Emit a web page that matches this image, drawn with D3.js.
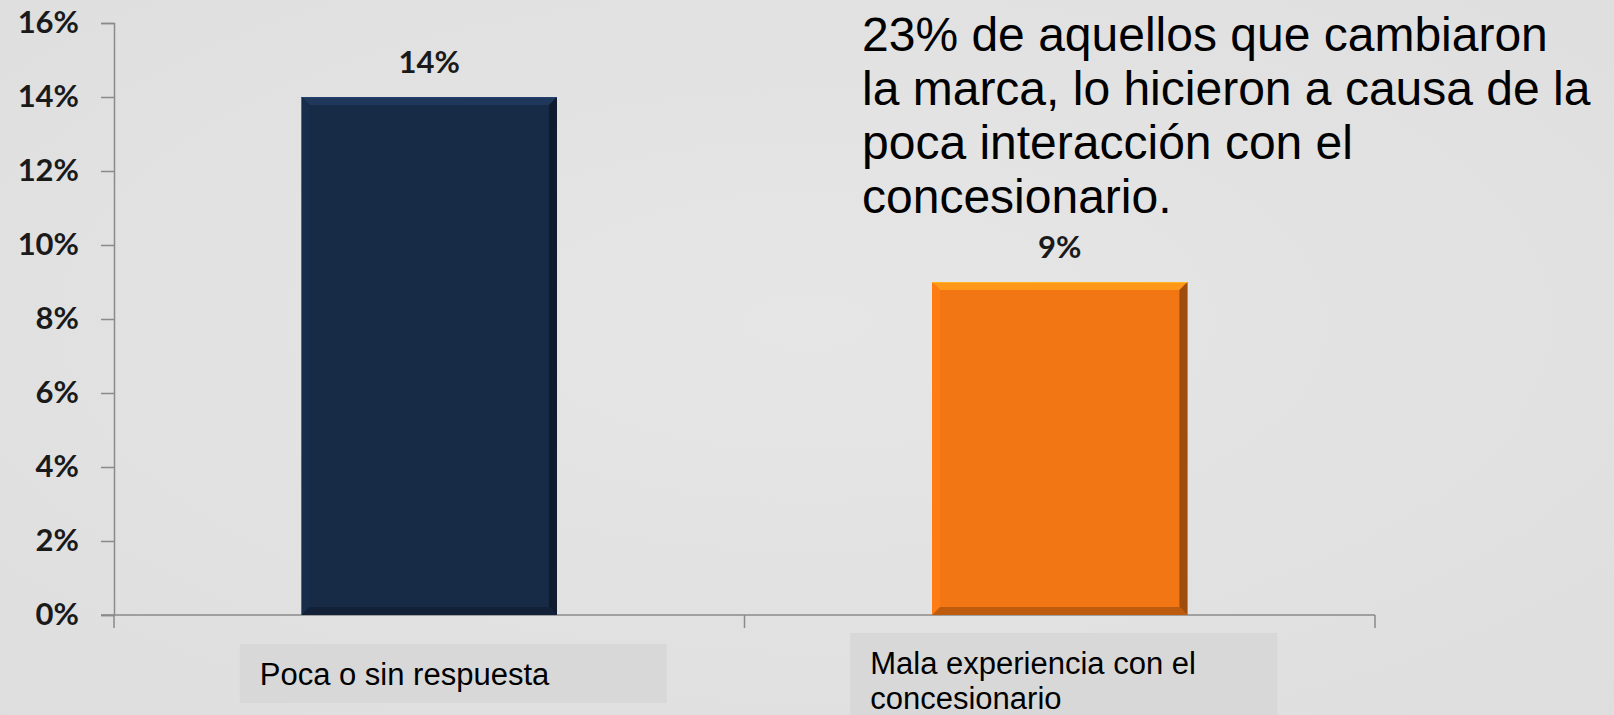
<!DOCTYPE html>
<html>
<head>
<meta charset="utf-8">
<script src="https://cdn.jsdelivr.net/npm/d3@7"></script>
<style>
  html, body { margin: 0; padding: 0; background: #e3e3e3; overflow: hidden; }
  .y-axis text, .value-label { font-family: Lato, "Open Sans", sans-serif; font-weight: 700; fill: #1a1a1a; }
  .note, .cat-label { font-family: "Liberation Sans", Arial, sans-serif; fill: #000; }
</style>
</head>
<body>
<svg class="chart"></svg>
<script>
// data
const categories = ['Poca o sin respuesta', 'Mala experiencia con el concesionario'];
const values = [14, 9];
const valueLabels = ['14%', '9%'];
const yTicks = [0, 2, 4, 6, 8, 10, 12, 14, 16];
const barColors = ['#172b47', '#f27613'];
const categoryLines = [['Poca o sin respuesta'], ['Mala experiencia con el', 'concesionario']];
const noteLines = [
  '23% de aquellos que cambiaron',
  'la marca, lo hicieron a causa de la',
  'poca interacción con el',
  'concesionario.'
];

const width = 1614, height = 715;
const svg = d3.select('.chart')
  .attr('width', width)
  .attr('height', height);

// slight slide texture
const defs = svg.append('defs');
const bg = defs.append('radialGradient').attr('id', 'bg').attr('cx', '50%').attr('cy', '45%').attr('r', '75%');
bg.append('stop').attr('offset', '0%').attr('stop-color', '#e6e6e6');
bg.append('stop').attr('offset', '100%').attr('stop-color', '#dedede');
svg.append('rect').attr('width', width).attr('height', height).attr('fill', 'url(#bg)');

const x = d3.scaleBand()
  .domain(categories)
  .range([114, 1375])
  .padding(0);

const y = d3.scaleLinear()
  .domain([0, 16])
  .range([615, 23]);

const barW = x.bandwidth() * 0.405;
const bevel = 8;

// y axis
const yAxis = svg.append('g')
  .attr('class', 'y-axis')
  .attr('transform', 'translate(114,0)')
  .call(d3.axisLeft(y).tickValues(yTicks).tickFormat(d => d + '%').tickSize(13).tickPadding(22));
yAxis.select('.domain').attr('stroke', '#8a8a8a').attr('stroke-width', 1.5);
yAxis.selectAll('.tick line').attr('stroke', '#8a8a8a').attr('stroke-width', 1.5);
yAxis.selectAll('.tick text').style('font-size', '31px');

// x axis: baseline + ticks on band edges
const xg = svg.append('g').attr('class', 'x-axis');
xg.append('line')
  .attr('x1', 101).attr('x2', x.range()[1])
  .attr('y1', y(0)).attr('y2', y(0))
  .attr('stroke', '#8a8a8a').attr('stroke-width', 1.5);
const edges = categories.map(d => x(d)).concat([x.range()[1]]);
xg.selectAll('.xt').data(edges).enter().append('line')
  .attr('x1', d => d).attr('x2', d => d)
  .attr('y1', y(0)).attr('y2', y(0) + 13)
  .attr('stroke', '#8a8a8a').attr('stroke-width', 1.5);

// bars with bevel
const bars = svg.selectAll('.bar').data(values).enter().append('g').attr('class', 'bar');
bars.each(function(v, i) {
  const g = d3.select(this);
  const x0 = x(categories[i]) + (x.bandwidth() - barW) / 2;
  const x1 = x0 + barW;
  const y0 = y(v), y1 = y(0);
  const c = d3.color(barColors[i]);
  g.append('rect')
    .attr('x', x0).attr('y', y0)
    .attr('width', barW).attr('height', y1 - y0)
    .attr('fill', c);
  // top bevel (light)
  g.append('polygon')
    .attr('points', [[x0, y0], [x1, y0], [x1 - bevel, y0 + bevel], [x0 + bevel, y0 + bevel]].join(' '))
    .attr('fill', c.brighter(0.7));
  // left bevel
  g.append('polygon')
    .attr('points', [[x0, y0], [x0 + bevel, y0 + bevel], [x0 + bevel, y1 - bevel], [x0, y1]].join(' '))
    .attr('fill', c.brighter(0.15));
  // right bevel (dark)
  g.append('polygon')
    .attr('points', [[x1, y0], [x1, y1], [x1 - bevel, y1 - bevel], [x1 - bevel, y0 + bevel]].join(' '))
    .attr('fill', c.darker(1.2));
  // bottom bevel
  g.append('polygon')
    .attr('points', [[x0, y1], [x1, y1], [x1 - bevel, y1 - bevel], [x0 + bevel, y1 - bevel]].join(' '))
    .attr('fill', c.darker(0.7));
  g.append('line')
    .attr('x1', x0).attr('x2', x1).attr('y1', y0 + 0.5).attr('y2', y0 + 0.5)
    .attr('stroke', c.brighter(1.2)).attr('stroke-width', 1);
});

// value labels
svg.selectAll('.value-label').data(values).enter().append('text')
  .attr('class', 'value-label')
  .attr('x', (d, i) => x(categories[i]) + x.bandwidth() / 2)
  .attr('y', d => y(d) - 24)
  .attr('text-anchor', 'middle')
  .style('font-size', '31px')
  .text((d, i) => valueLabels[i]);

// category label boxes (placed like the slide's text boxes)
const boxes = [
  {dx: 24, top: 644, w: 427, h: 59},
  {dx: 4, top: 633, w: 427, h: 90}
];
categories.forEach((cat, i) => {
  const b = boxes[i];
  const cx = x(cat) + x.bandwidth() / 2 + b.dx;
  const left = cx - b.w / 2;
  svg.append('rect')
    .attr('x', left).attr('y', b.top)
    .attr('width', b.w).attr('height', b.h)
    .attr('fill', '#d8d8d8');
  const t = svg.append('text')
    .attr('class', 'cat-label')
    .attr('x', left + 20)
    .attr('y', b.top + 41)
    .style('font-size', '31px');
  categoryLines[i].forEach((line, j) => {
    t.append('tspan').attr('x', left + 20).attr('dy', j ? 35 : 0).text(line);
  });
});

// note text
const note = svg.append('text')
  .attr('class', 'note')
  .attr('x', 862)
  .attr('y', 51)
  .style('font-size', '48px');
note.selectAll('tspan').data(noteLines).enter().append('tspan')
  .attr('x', 862)
  .attr('dy', (d, i) => i ? 54 : 0)
  .text(d => d);
</script>
</body>
</html>
